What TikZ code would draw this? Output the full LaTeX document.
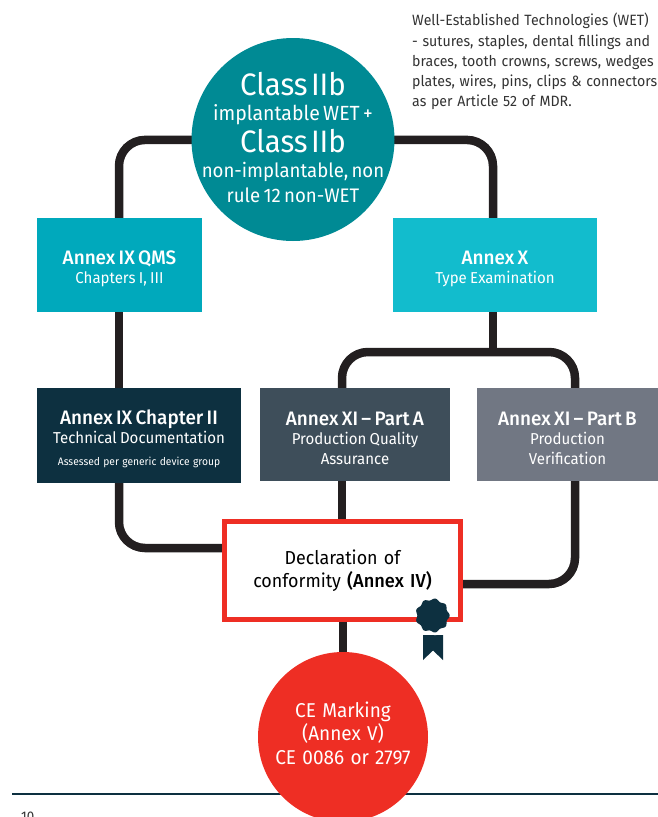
\documentclass[tikz,border=0pt]{standalone}
\usepackage{fontspec}
\setmainfont{Fira Sans}[FakeStretch=0.95,WordSpace=1.25,BoldFont=* Medium,BoldFeatures={FakeStretch=0.97,WordSpace=1.5}]
\usetikzlibrary{backgrounds,calc}
\definecolor{cTop}{HTML}{008A94}
\definecolor{cQms}{HTML}{00A9BC}
\definecolor{cX}{HTML}{12BCCD}
\definecolor{cTwo}{HTML}{0D3040}
\definecolor{cA}{HTML}{3E4E5A}
\definecolor{cB}{HTML}{717783}
\definecolor{cRed}{HTML}{EE2E24}
\definecolor{cLine}{HTML}{231F20}
\definecolor{cNote}{HTML}{333333}
\tikzset{
  box/.style={draw=none,inner sep=0pt,outer sep=0pt,text=white,align=center,anchor=north west},
  conn/.style={draw=cLine,line width=8.5pt,rounded corners=26pt},
}
\newcommand{\hdl}[1]{{\fontsize{19.5}{21}\selectfont\bfseries\rule{0pt}{21pt}#1\par}}
\newcommand{\subl}[1]{{\fontsize{15.8}{19.5}\selectfont #1\par}}
\begin{document}
\begin{tikzpicture}[x=1pt,y=-1pt]
\useasboundingbox (0,0) rectangle (658,817);
\clip (0,0) rectangle (658,817);
\node[circle,fill=cTop,minimum size=203pt,inner sep=0pt,outer sep=0pt] (top) at (293,139.5) {};
\node[text=white,align=center,inner sep=0pt,text width=200pt] (toptext) at (293,137.5) {%
  {\fontsize{31}{28}\selectfont Class IIb\par}
  {\fontsize{20.5}{25}\selectfont implantable WET +\par}
  {\fontsize{31}{32}\selectfont Class IIb\par}
  {\fontsize{19.6}{25}\selectfont non-implantable, non\par}
  {\fontsize{19.6}{25}\selectfont rule 12 non-WET\par}};
\node[box,fill=cQms,text width=165pt,minimum height=94pt] (qms) at (37,218) {\hdl{Annex IX QMS}\subl{Chapters I, III}};
\node[box,fill=cX,text width=204pt,minimum height=94pt] (x) at (393,218) {\hdl{Annex X}\subl{Type Examination}};
\node[box,fill=cTwo,text width=204pt,minimum height=95pt] (two) at (37,388) {\hdl{Annex IX Chapter II}\subl{Technical Documentation}{\fontsize{10.8}{22}\selectfont Assessed per generic device group\par}};
\node[box,fill=cA,text width=190pt,minimum height=93pt] (pa) at (260,388) {\hdl{Annex XI -- Part A}\subl{Production Quality}\subl{Assurance}};
\node[box,fill=cB,text width=181pt,minimum height=93pt] (pb) at (477,388) {\hdl{Annex XI -- Part B}\subl{Production}\subl{Verification}};
\node[draw=cRed,line width=5pt,fill=white,anchor=north west,outer sep=0pt,text width=236pt,minimum height=98pt,inner sep=0pt,align=center,text=black,font=\fontsize{18.8}{23}\selectfont] (doc) at (224.5,521.5) {Declaration of\\conformity \textbf{(Annex IV)}};
\node[circle,fill=cRed,minimum size=170pt,outer sep=0pt,inner sep=0pt,text=white,align=center,font=\fontsize{20}{23.5}\selectfont] (ce) at (343,737) {CE Marking\\(Annex V)\\CE 0086 or 2797\rule[-8.5pt]{0pt}{8.5pt}};
\node[anchor=north west,inner sep=0pt,align=left,text=cNote,font=\fontsize{14.9}{20.3}\selectfont] (note) at (412,13) {Well-Established Technologies (WET)\\- sutures, staples, dental fillings and\\braces, tooth crowns, screws, wedges\\plates, wires, pins, clips \& connectors\\as per Article 52 of MDR.};
\node[anchor=north west,inner sep=0pt,font=\fontsize{14}{16}\selectfont,text=cNote] (page) at (21,812) {10};
\coordinate (j) at (493,352);
\coordinate (rulea) at (12,794);
\coordinate (ruleb) at (658,794);
\begin{pgfonlayer}{background}
\draw[cTwo,line width=1.8pt] (rulea) -- (ruleb);
\draw[conn] (top.center) -- (119,140) -- (qms.north -| 119,0);
\draw[conn] (top.center) -- (493,140) -- (x.north -| 493,0);
\draw[conn] (qms.south -| 119,0) -- (two.north -| 119,0);
\draw[conn] (x.south -| 493,0) -- (j);
\draw[conn] (pa.north -| 342,0) -- (342,352) -- (575,352) -- (pb.north -| 575,0);
\draw[conn] (two.south -| 119,0) -- (119,548) -- (doc.west |- 0,548);
\draw[conn] (pa.south -| 342,0) -- (doc.north -| 342,0);
\draw[conn] (pb.south -| 575,0) -- (575,584) -- (doc.east |- 0,584);
\draw[conn] (doc.south -| 343,0) -- (ce.north);
\end{pgfonlayer}
% seal
\fill[cTwo] (423,635) -- (423,660) -- (433,650.5) -- (443,660) -- (443,635) -- cycle;
\begin{scope}[shift={(432.5,615.5)}]
\begin{scope}
\clip (-10,10) rectangle (11,30);
\fill[white] plot[smooth cycle,samples=72,domain=0:355] (\x:{19+1*cos(9*\x)});
\end{scope}
\fill[cTwo] plot[smooth cycle,samples=72,domain=0:355] (\x:{16.2+1*cos(9*\x)});
\end{scope}
\end{tikzpicture}
\end{document}
